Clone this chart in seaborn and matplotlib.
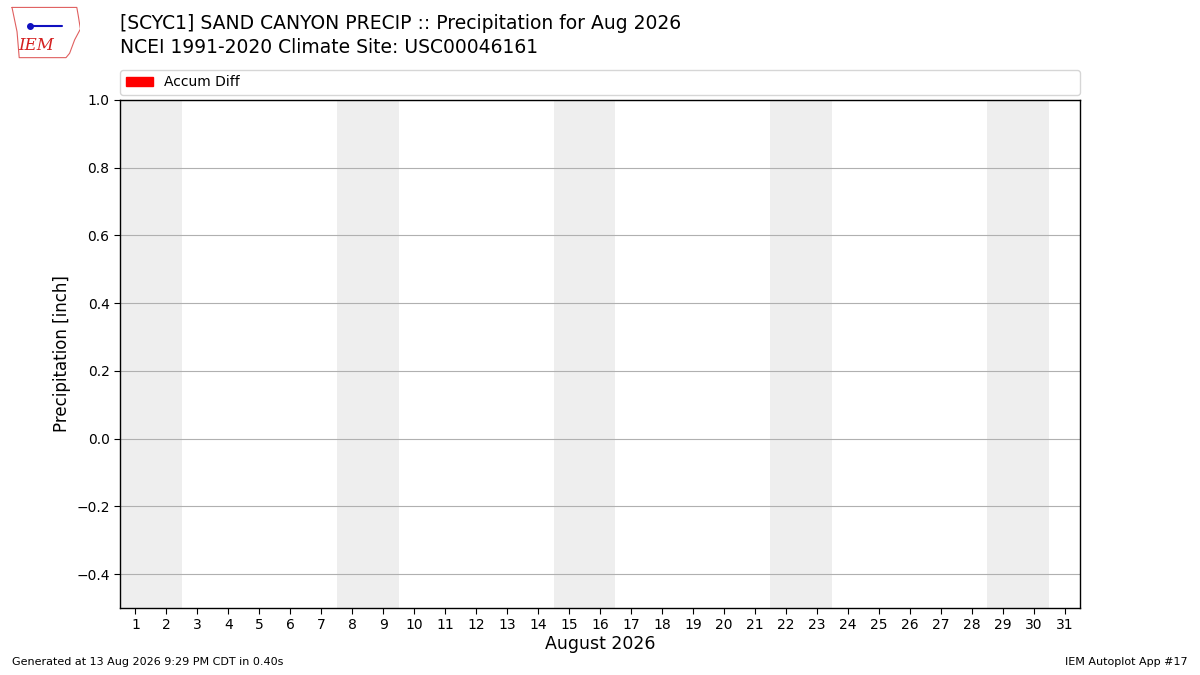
import matplotlib
matplotlib.use("Agg")
import matplotlib.pyplot as plt
from matplotlib.patches import Patch
import seaborn as sns
import pandas as pd

# August 2026, no observations yet for the accumulated difference
days = list(range(1, 32))
accum_diff = [float("nan")] * 31
weekend_starts = [1, 8, 15, 22, 29]
yticks = [-0.4, -0.2, 0.0, 0.2, 0.4, 0.6, 0.8, 1.0]

title_line1 = "[SCYC1] SAND CANYON PRECIP :: Precipitation for Aug 2026"
title_line2 = "NCEI 1991-2020 Climate Site: USC00046161"

sns.set_style("white", {"axes.edgecolor": "black", "xtick.bottom": True, "ytick.left": True,
                        "text.color": "black", "axes.labelcolor": "black",
                        "xtick.color": "black", "ytick.color": "black"})
plt.rcParams["font.family"] = ["DejaVu Sans"]

df = pd.DataFrame({"day": days, "accum_diff": accum_diff})

fig = plt.figure(figsize=(12, 6.75), dpi=100)
ax = fig.add_axes([0.1, 0.0993, 0.8, 0.7526])

for d in weekend_starts:
    ax.axvspan(d - 0.5, d + 1.5, color="#eeeeee", zorder=0, lw=0)

# nothing to draw yet: all values are missing
sns.lineplot(data=df.dropna(), x="day", y="accum_diff", ax=ax, color="red", legend=False)

ax.set_xlim(0.5, 31.5)
ax.set_ylim(-0.5, 1.0)
ax.set_xticks(days)
ax.set_xticklabels([str(d) for d in days])
ax.set_yticks(yticks)
ax.yaxis.grid(True, color="#b0b0b0", lw=0.8)
ax.xaxis.grid(False)
ax.set_axisbelow(True)
for s in ax.spines.values():
    s.set_color("black")
    s.set_linewidth(1.0)
ax.tick_params(axis="both", labelsize=10, length=4, color="black", labelcolor="black")
ax.set_xlabel("August 2026", fontsize=12.5, labelpad=2)
ax.set_ylabel("Precipitation [inch]", fontsize=12)

ax.legend(handles=[Patch(color="red", label="Accum Diff")], loc="lower left",
          bbox_to_anchor=(0, 1.01, 1, 0.05), mode="expand",
          ncol=1, fontsize=10, borderaxespad=0, frameon=True)

fig.text(0.1, 0.965, title_line1, fontsize=13.5, va="center", ha="left")
fig.text(0.1, 0.930, title_line2, fontsize=13.5, va="center", ha="left")

# logo stand-in
lax = fig.add_axes([0.007, 0.913, 0.06, 0.08])
lax.set_xlim(0, 1)
lax.set_ylim(0, 1)
lax.axis("off")
lax.plot([0.05, 0.95, 0.97, 1.0, 0.92, 0.85, 0.8, 0.15, 0.12, 0.05],
         [0.95, 0.95, 0.8, 0.55, 0.35, 0.1, 0.02, 0.02, 0.5, 0.95],
         color="#e06060", lw=0.8)
lax.text(0.38, 0.25, "IEM", fontsize=12, color="#d42020", family="DejaVu Serif",
         style="italic", ha="center", va="center")
lax.plot([0.3, 0.75], [0.6, 0.6], color="#1010c0", lw=1.5)
lax.plot([0.3], [0.6], "o", color="#1010c0", ms=4)

fig.text(0.01, 0.015, "Generated at 13 Aug 2026 9:29 PM CDT in 0.40s", fontsize=8, ha="left")
fig.text(0.99, 0.015, "IEM Autoplot App #17", fontsize=8, ha="right")

fig.savefig("out.png", dpi=100)
